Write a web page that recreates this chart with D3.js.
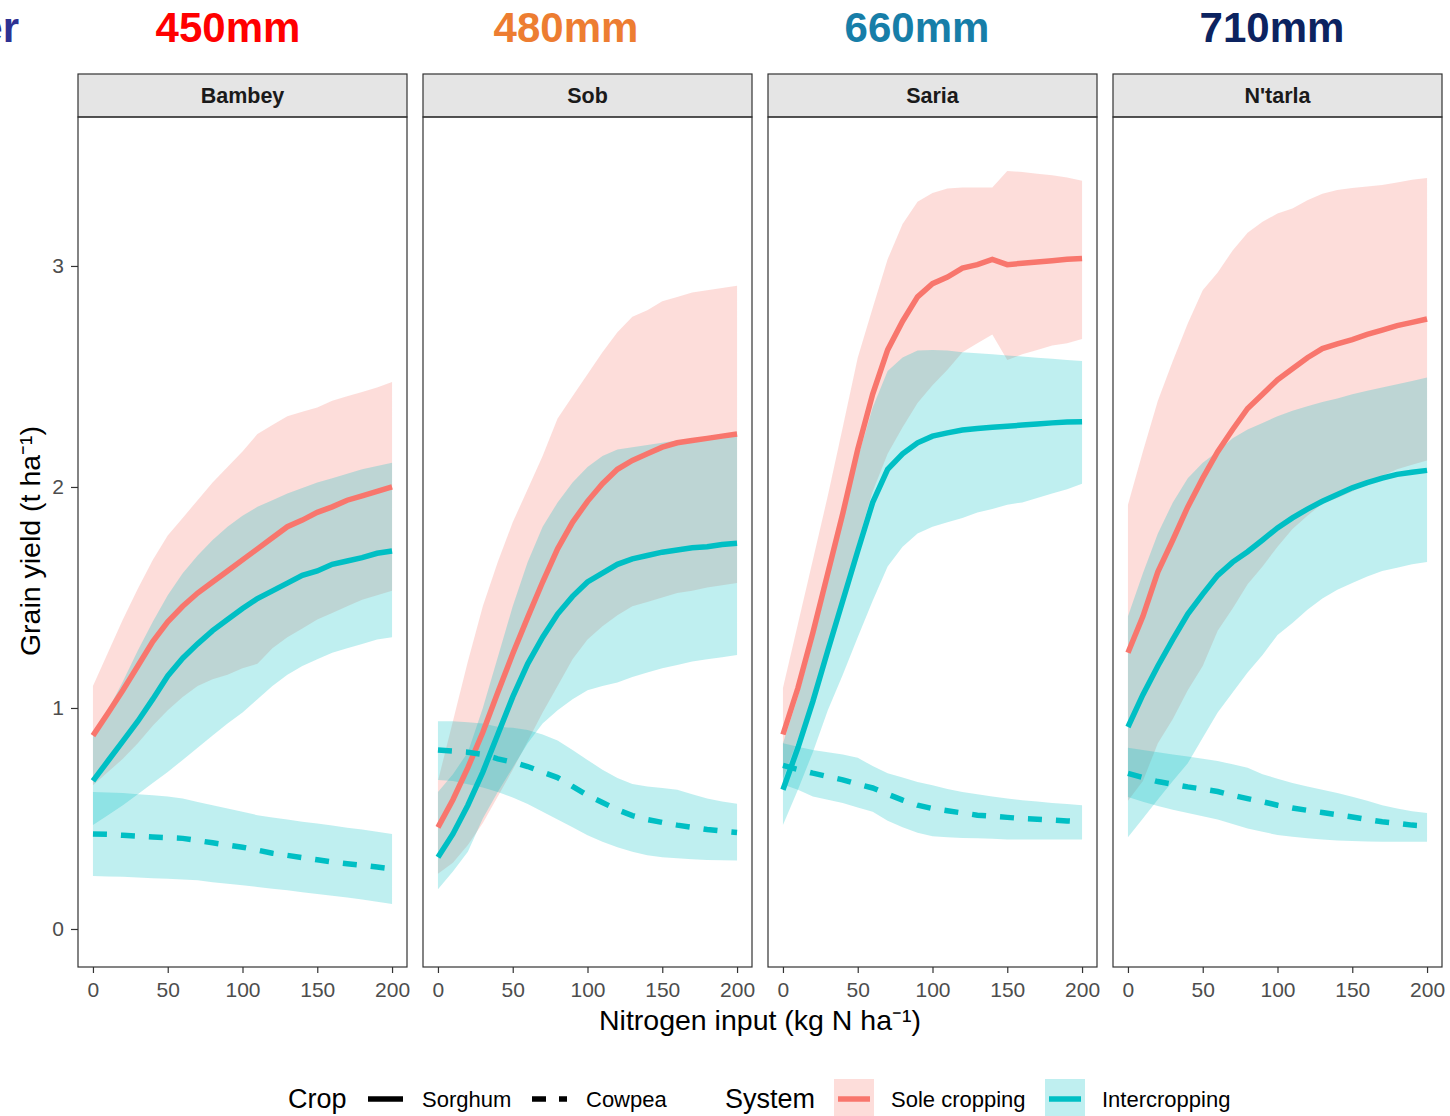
<!DOCTYPE html>
<html>
<head>
<meta charset="utf-8">
<script src="https://cdn.jsdelivr.net/npm/d3@7"></script>
<style>
  body { margin: 0; background: #fff; }
  svg { display: block; font-family: "Liberation Sans", Arial, sans-serif; }
</style>
</head>
<body>
<svg id="chart" width="1450" height="1116"></svg>
<script>
// nitrogen rates (kg N / ha)
const nitrogen = [0, 10, 20, 30, 40, 50, 60, 70, 80, 90, 100, 110, 120, 130, 140, 150, 160, 170, 180, 190, 200];

const sites = ["Bambey", "Sob", "Saria", "N'tarla"];
const rainfall = ["450mm", "480mm", "660mm", "710mm"];
const rainfallColors = ["#ff0000", "#ed7d31", "#177ea8", "#0c2360"];

// each row: [lower, median, upper] grain yield (t/ha)
const bambeySole = [[0.65,0.875,1.10],[0.71,0.976,1.25],[0.77,1.08,1.40],[0.84,1.19,1.54],[0.92,1.30,1.67],[0.99,1.39,1.78],[1.05,1.46,1.86],[1.10,1.52,1.94],[1.13,1.57,2.02],[1.15,1.62,2.09],[1.18,1.67,2.16],[1.20,1.72,2.24],[1.27,1.77,2.28],[1.32,1.82,2.32],[1.36,1.85,2.34],[1.40,1.885,2.36],[1.43,1.91,2.39],[1.46,1.94,2.41],[1.49,1.96,2.43],[1.51,1.98,2.45],[1.53,2.00,2.475]];
const bambeyInter = [[0.47,0.67,0.87],[0.515,0.76,0.99],[0.56,0.85,1.12],[0.61,0.94,1.26],[0.66,1.04,1.39],[0.71,1.145,1.51],[0.765,1.225,1.61],[0.82,1.29,1.69],[0.875,1.35,1.76],[0.93,1.40,1.82],[0.98,1.45,1.87],[1.04,1.495,1.91],[1.10,1.53,1.94],[1.15,1.565,1.97],[1.19,1.60,1.995],[1.22,1.62,2.02],[1.25,1.65,2.04],[1.27,1.665,2.06],[1.29,1.68,2.08],[1.31,1.70,2.095],[1.32,1.71,2.11]];
const bambeyCowpea = [[0.24,0.43,0.62],[0.238,0.428,0.618],[0.236,0.424,0.615],[0.233,0.42,0.61],[0.23,0.416,0.605],[0.227,0.413,0.60],[0.224,0.41,0.59],[0.22,0.40,0.575],[0.212,0.39,0.56],[0.205,0.38,0.545],[0.198,0.37,0.53],[0.19,0.357,0.515],[0.182,0.343,0.505],[0.175,0.333,0.495],[0.166,0.323,0.485],[0.158,0.313,0.477],[0.15,0.303,0.468],[0.143,0.295,0.458],[0.133,0.288,0.45],[0.123,0.28,0.44],[0.113,0.272,0.43]];

const sobSole = [[0.25,0.46,0.67],[0.30,0.585,0.94],[0.38,0.73,1.21],[0.48,0.89,1.46],[0.60,1.07,1.66],[0.72,1.245,1.84],[0.85,1.41,1.99],[0.98,1.57,2.14],[1.10,1.72,2.31],[1.22,1.84,2.41],[1.31,1.935,2.51],[1.37,2.015,2.61],[1.42,2.08,2.70],[1.46,2.12,2.77],[1.48,2.15,2.80],[1.50,2.18,2.84],[1.52,2.20,2.86],[1.53,2.21,2.88],[1.545,2.22,2.89],[1.555,2.23,2.90],[1.565,2.24,2.91]];
const sobInter = [[0.18,0.325,0.62],[0.26,0.43,0.70],[0.35,0.56,0.80],[0.50,0.71,1.00],[0.62,0.88,1.23],[0.73,1.05,1.46],[0.84,1.20,1.66],[0.93,1.32,1.82],[0.99,1.425,1.93],[1.04,1.505,2.02],[1.08,1.57,2.09],[1.10,1.61,2.14],[1.115,1.65,2.17],[1.14,1.675,2.18],[1.16,1.69,2.19],[1.18,1.705,2.20],[1.195,1.715,2.21],[1.21,1.725,2.215],[1.22,1.73,2.22],[1.23,1.74,2.235],[1.24,1.745,2.25]];
const sobCowpea = [[0.674,0.81,0.94],[0.67,0.805,0.94],[0.655,0.80,0.935],[0.64,0.79,0.93],[0.62,0.77,0.915],[0.595,0.755,0.91],[0.566,0.735,0.90],[0.53,0.71,0.88],[0.495,0.685,0.853],[0.46,0.645,0.81],[0.424,0.605,0.765],[0.395,0.572,0.72],[0.37,0.54,0.683],[0.35,0.513,0.656],[0.334,0.495,0.645],[0.325,0.482,0.638],[0.32,0.47,0.63],[0.316,0.46,0.61],[0.312,0.45,0.59],[0.311,0.443,0.577],[0.31,0.437,0.567]];

const sariaSole = [[0.68,0.88,1.09],[0.86,1.09,1.38],[1.03,1.34,1.67],[1.26,1.61,1.96],[1.50,1.88,2.27],[1.75,2.17,2.585],[1.98,2.42,2.81],[2.15,2.62,3.03],[2.27,2.75,3.19],[2.38,2.86,3.29],[2.46,2.92,3.33],[2.53,2.95,3.35],[2.61,2.99,3.355],[2.65,3.006,3.355],[2.69,3.03,3.355],[2.575,3.006,3.43],[2.60,3.012,3.425],[2.62,3.018,3.417],[2.64,3.024,3.41],[2.65,3.03,3.40],[2.67,3.034,3.386]];
const sariaInter = [[0.47,0.63,0.84],[0.63,0.82,1.05],[0.80,1.03,1.30],[0.99,1.26,1.57],[1.15,1.485,1.86],[1.32,1.71,2.13],[1.485,1.93,2.36],[1.64,2.08,2.525],[1.73,2.15,2.586],[1.79,2.20,2.617],[1.82,2.23,2.62],[1.84,2.245,2.617],[1.86,2.258,2.61],[1.885,2.265,2.605],[1.90,2.27,2.60],[1.92,2.275,2.595],[1.93,2.28,2.59],[1.95,2.285,2.585],[1.97,2.29,2.58],[1.99,2.294,2.575],[2.015,2.295,2.57]];
const sariaCowpea = [[0.654,0.74,0.84],[0.63,0.722,0.825],[0.60,0.705,0.81],[0.585,0.69,0.80],[0.57,0.675,0.79],[0.55,0.655,0.775],[0.53,0.638,0.737],[0.49,0.61,0.705],[0.46,0.583,0.685],[0.436,0.56,0.665],[0.42,0.545,0.65],[0.415,0.535,0.633],[0.412,0.525,0.62],[0.41,0.515,0.61],[0.408,0.51,0.60],[0.405,0.505,0.59],[0.405,0.50,0.583],[0.405,0.497,0.577],[0.405,0.493,0.57],[0.405,0.489,0.565],[0.405,0.485,0.56]];

const ntarlaSole = [[0.58,1.25,1.92],[0.67,1.415,2.16],[0.84,1.616,2.39],[0.95,1.76,2.57],[1.08,1.91,2.74],[1.19,2.04,2.89],[1.35,2.16,2.97],[1.45,2.26,3.07],[1.56,2.355,3.15],[1.64,2.42,3.20],[1.73,2.485,3.237],[1.81,2.535,3.26],[1.87,2.585,3.297],[1.925,2.626,3.327],[1.95,2.647,3.344],[1.98,2.667,3.353],[2.02,2.69,3.36],[2.05,2.71,3.366],[2.08,2.73,3.378],[2.10,2.745,3.39],[2.12,2.76,3.398]];
const ntarlaInter = [[0.415,0.914,1.415],[0.50,1.06,1.61],[0.586,1.19,1.79],[0.67,1.31,1.93],[0.75,1.425,2.04],[0.865,1.515,2.11],[0.98,1.60,2.16],[1.07,1.66,2.22],[1.16,1.707,2.26],[1.24,1.76,2.29],[1.33,1.815,2.32],[1.385,1.86,2.345],[1.445,1.90,2.365],[1.495,1.935,2.385],[1.535,1.966,2.40],[1.566,1.996,2.42],[1.595,2.02,2.435],[1.62,2.04,2.45],[1.635,2.057,2.465],[1.65,2.067,2.48],[1.66,2.075,2.495]];
const ntarlaCowpea = [[0.597,0.704,0.82],[0.576,0.685,0.81],[0.556,0.667,0.80],[0.54,0.655,0.79],[0.525,0.643,0.78],[0.51,0.633,0.77],[0.495,0.622,0.76],[0.475,0.605,0.745],[0.455,0.59,0.73],[0.44,0.576,0.70],[0.425,0.56,0.68],[0.417,0.547,0.66],[0.41,0.537,0.645],[0.405,0.527,0.63],[0.40,0.517,0.615],[0.398,0.507,0.598],[0.396,0.496,0.58],[0.395,0.485,0.56],[0.395,0.478,0.545],[0.395,0.47,0.533],[0.395,0.466,0.525]];

const siteData = [
  [bambeySole, bambeyInter, bambeyCowpea],
  [sobSole, sobInter, sobCowpea],
  [sariaSole, sariaInter, sariaCowpea],
  [ntarlaSole, ntarlaInter, ntarlaCowpea],
];

const xTicks = [0, 50, 100, 150, 200];
const yTicks = [0, 1, 2, 3];

const SOLE = "#F8766D", INTER = "#00BFC4";

// layout
const panelLeft = 78, panelW = 329, panelGap = 16;
const stripTop = 74, plotTop = 117, plotBottom = 967;

const svg = d3.select("#chart");

const x = d3.scaleLinear().domain([-10, 210]).range([0, panelW]);
const y = d3.scaleLinear().domain([-0.172, 3.674]).range([plotBottom - plotTop, 0]);

const area = d3.area()
  .x((d, i) => x(nitrogen[i]))
  .y0(d => y(d[0]))
  .y1(d => y(d[2]));
const line = d3.line()
  .x((d, i) => x(nitrogen[i]))
  .y(d => y(d[1]));

// rainfall headings above the facets (the first one is cut at the edge, as on the slide)
svg.append("text")
  .attr("x", 19).attr("y", 42)
  .attr("text-anchor", "end")
  .attr("font-size", 42).attr("font-weight", "bold")
  .attr("fill", "#2e3192")
  .text("er");
const headX = [228, 566, 917, 1272];
svg.selectAll("text.rain").data(rainfall).join("text")
  .attr("class", "rain")
  .attr("x", (d, i) => headX[i]).attr("y", 42)
  .attr("text-anchor", "middle")
  .attr("font-size", 42).attr("font-weight", "bold")
  .attr("fill", (d, i) => rainfallColors[i])
  .text(d => d);

sites.forEach((site, i) => {
  const g = svg.append("g")
    .attr("transform", `translate(${panelLeft + i * (panelW + panelGap)},${plotTop})`);
  const [sole, inter, cowpea] = siteData[i];

  // strip
  g.append("rect")
    .attr("x", 0).attr("y", stripTop - plotTop)
    .attr("width", panelW).attr("height", plotTop - stripTop)
    .attr("fill", "#e5e5e5").attr("stroke", "#333").attr("stroke-width", 1.2);
  g.append("text")
    .attr("x", panelW / 2).attr("y", (stripTop - plotTop) / 2 + 7.5)
    .attr("text-anchor", "middle")
    .attr("font-size", 21.5).attr("font-weight", "bold").attr("fill", "#1a1a1a")
    .text(site);

  // ribbons
  g.append("path").attr("d", area(sole)).attr("fill", SOLE).attr("fill-opacity", 0.25);
  g.append("path").attr("d", area(inter)).attr("fill", INTER).attr("fill-opacity", 0.25);
  g.append("path").attr("d", area(cowpea)).attr("fill", INTER).attr("fill-opacity", 0.25);

  // medians
  g.append("path").attr("d", line(sole)).attr("fill", "none")
    .attr("stroke", SOLE).attr("stroke-width", 5.5);
  g.append("path").attr("d", line(inter)).attr("fill", "none")
    .attr("stroke", INTER).attr("stroke-width", 5.5);
  g.append("path").attr("d", line(cowpea)).attr("fill", "none")
    .attr("stroke", INTER).attr("stroke-width", 5.5)
    .attr("stroke-dasharray", "14,14");

  // panel border
  g.append("rect")
    .attr("width", panelW).attr("height", plotBottom - plotTop)
    .attr("fill", "none").attr("stroke", "#333").attr("stroke-width", 1.2);

  // x axis
  const xa = g.append("g")
    .attr("transform", `translate(0,${plotBottom - plotTop})`)
    .call(d3.axisBottom(x).tickValues(xTicks).tickSize(6).tickPadding(9));
  xa.select(".domain").remove();
  xa.selectAll("line").attr("stroke", "#333").attr("stroke-width", 1.2);
  xa.selectAll("text").attr("font-size", 21).attr("fill", "#4d4d4d")
    .attr("font-family", "Liberation Sans, Arial, sans-serif");

  if (i === 0) {
    const ya = g.append("g")
      .call(d3.axisLeft(y).tickValues(yTicks).tickFormat(d3.format("d")).tickSize(7).tickPadding(7));
    ya.select(".domain").remove();
    ya.selectAll("line").attr("stroke", "#333").attr("stroke-width", 1.2);
    ya.selectAll("text").attr("font-size", 21).attr("fill", "#4d4d4d")
      .attr("font-family", "Liberation Sans, Arial, sans-serif");
  }
});

// axis titles
svg.append("text")
  .attr("x", 760).attr("y", 1030)
  .attr("text-anchor", "middle").attr("font-size", 28.5).attr("fill", "#000")
  .text("Nitrogen input (kg N ha⁻¹)");
svg.append("text")
  .attr("transform", "translate(40,541) rotate(-90)")
  .attr("text-anchor", "middle").attr("font-size", 28.5).attr("fill", "#000")
  .text("Grain yield (t ha⁻¹)");

// legend
const legY = 1099;
const leg = svg.append("g");
leg.append("text").attr("x", 288).attr("y", legY).attr("dy", "0.35em")
  .attr("font-size", 27).text("Crop");
leg.append("line").attr("x1", 368).attr("x2", 403).attr("y1", legY).attr("y2", legY)
  .attr("stroke", "#000").attr("stroke-width", 5.5);
leg.append("text").attr("x", 422).attr("y", legY).attr("dy", "0.35em")
  .attr("font-size", 22).text("Sorghum");
leg.append("line").attr("x1", 532).attr("x2", 567).attr("y1", legY).attr("y2", legY)
  .attr("stroke", "#000").attr("stroke-width", 5.5).attr("stroke-dasharray", "14,13");
leg.append("text").attr("x", 586).attr("y", legY).attr("dy", "0.35em")
  .attr("font-size", 22).text("Cowpea");

leg.append("text").attr("x", 725).attr("y", legY).attr("dy", "0.35em")
  .attr("font-size", 27).text("System");
const sysKeys = [
  { label: "Sole cropping", color: SOLE, x: 834 },
  { label: "Intercropping", color: INTER, x: 1045 },
];
sysKeys.forEach(k => {
  leg.append("rect").attr("x", k.x).attr("y", legY - 20).attr("width", 40).attr("height", 40)
    .attr("fill", k.color).attr("fill-opacity", 0.25);
  leg.append("line").attr("x1", k.x + 4).attr("x2", k.x + 36).attr("y1", legY).attr("y2", legY)
    .attr("stroke", k.color).attr("stroke-width", 5.5);
  leg.append("text").attr("x", k.x + 57).attr("y", legY).attr("dy", "0.35em")
    .attr("font-size", 22).text(k.label);
});
</script>
</body>
</html>
